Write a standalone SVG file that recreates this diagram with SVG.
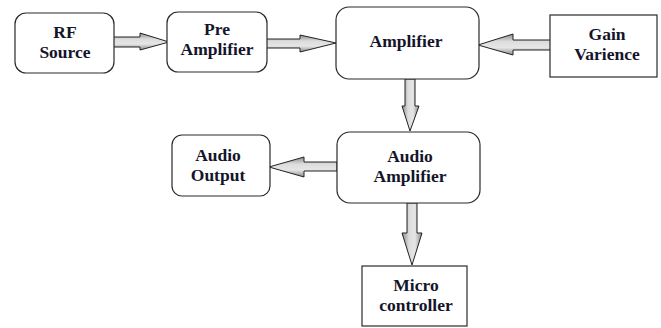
<svg xmlns="http://www.w3.org/2000/svg" width="661" height="328" viewBox="0 0 661 328">
  <defs>
    <style>
      .box { fill: #ffffff; stroke: #2a2a2a; stroke-width: 1.2; }
      .lbl { font-family: "Liberation Serif", "Times New Roman", serif; font-weight: bold; font-size: 17.5px; fill: #14142a; text-anchor: middle; }
      .arr { stroke: #222; stroke-width: 1; stroke-linejoin: miter; }
      .h { fill: url(#gH); }
      .v { fill: url(#gV); }
    </style>
    <!-- metallic grey fill for horizontal block arrows -->
    <linearGradient id="gH" x1="0" y1="0" x2="0" y2="1">
      <stop offset="0" stop-color="#8a8a8a"/>
      <stop offset="0.35" stop-color="#dcdcdc"/>
      <stop offset="0.65" stop-color="#e6e6e6"/>
      <stop offset="1" stop-color="#8a8a8a"/>
    </linearGradient>
    <!-- same fill, turned for vertical block arrows -->
    <linearGradient id="gV" x1="0" y1="0" x2="1" y2="0">
      <stop offset="0" stop-color="#8a8a8a"/>
      <stop offset="0.35" stop-color="#dcdcdc"/>
      <stop offset="0.65" stop-color="#e6e6e6"/>
      <stop offset="1" stop-color="#8a8a8a"/>
    </linearGradient>
  </defs>

  <rect width="661" height="328" fill="#ffffff"/>

  <g id="connectors">
    <!-- RF Source -> Pre Amplifier -->
    <path class="arr h" d="M113,37 H140 V33 L169,42 L140,50 V47 H113 Z"/>
    <!-- Pre Amplifier -> Amplifier -->
    <path class="arr h" d="M266,39 H300 V35 L336,43 L300,52 V48 H266 Z"/>
    <!-- Gain Varience -> Amplifier -->
    <path class="arr h" d="M553,40 H513 V34 L478,45 L513,55 V50 H553 Z"/>
    <!-- Amplifier -> Audio Amplifier -->
    <path class="arr v" d="M405,79 V106 H402 L410,131 L419,106 H415 V79 Z"/>
    <!-- Audio Amplifier -> Audio Output -->
    <path class="arr h" d="M337,162 H304 V157 L269,167 L304,177 V171 H337 Z"/>
    <!-- Audio Amplifier -> Micro controller -->
    <path class="arr v" d="M407,203 V233 H402 L412,265 L422,233 H417 V203 Z"/>
  </g>

  <g id="rf-source">
    <rect class="box" x="15" y="13" width="99" height="60" rx="11"/>
    <text class="lbl" x="65" y="38">RF</text>
    <text class="lbl" x="65" y="58">Source</text>
  </g>

  <g id="pre-amplifier">
    <rect class="box" x="167" y="12" width="100" height="60" rx="11"/>
    <text class="lbl" x="217" y="35">Pre</text>
    <text class="lbl" x="217" y="55">Amplifier</text>
  </g>

  <g id="amplifier">
    <rect class="box" x="336" y="7" width="143" height="72" rx="13"/>
    <text class="lbl" x="406" y="47">Amplifier</text>
  </g>

  <g id="gain-varience">
    <rect class="box" x="550" y="15" width="107" height="62"/>
    <text class="lbl" x="607" y="40">Gain</text>
    <text class="lbl" x="607" y="60">Varience</text>
  </g>

  <g id="audio-amplifier">
    <rect class="box" x="337" y="132" width="143" height="71" rx="13"/>
    <text class="lbl" x="410" y="162">Audio</text>
    <text class="lbl" x="410" y="182">Amplifier</text>
  </g>

  <g id="audio-output">
    <rect class="box" x="172" y="135" width="98" height="61" rx="10"/>
    <text class="lbl" x="218" y="161">Audio</text>
    <text class="lbl" x="218" y="181">Output</text>
  </g>

  <g id="micro-controller">
    <rect class="box" x="362" y="266" width="105" height="60"/>
    <text class="lbl" x="416" y="291">Micro</text>
    <text class="lbl" x="416" y="311">controller</text>
  </g>
</svg>
